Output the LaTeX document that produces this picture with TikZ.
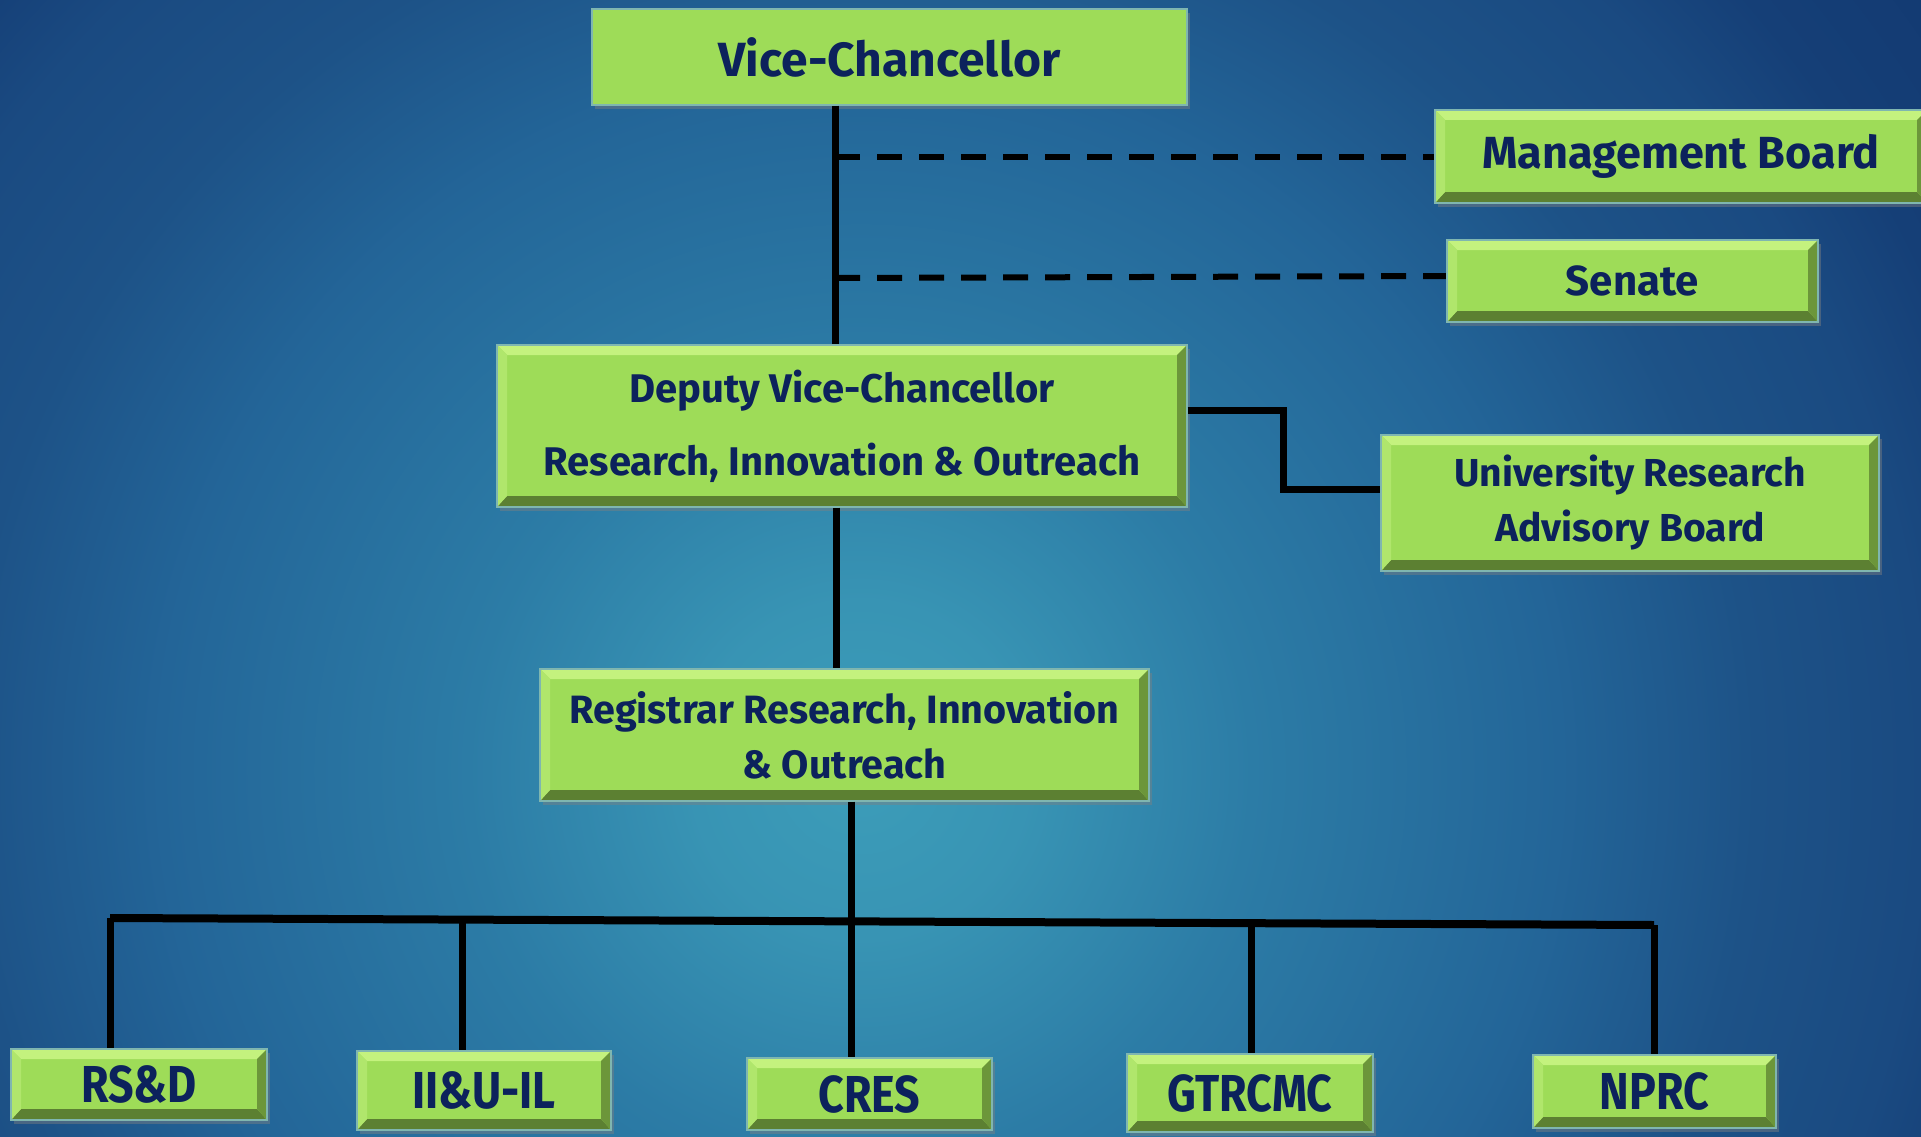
\documentclass[tikz,border=0pt]{standalone}
\usepackage{fontspec}
\setmainfont{Fira Sans}
\newfontfamily\condfont[FakeStretch=0.86]{Fira Sans}
\usetikzlibrary{calc,shadows}
\definecolor{bgA}{HTML}{3C9DB9}
\definecolor{bgB}{HTML}{3894B4}
\definecolor{bgC}{HTML}{2C7CA6}
\definecolor{bgD}{HTML}{236598}
\definecolor{bgE}{HTML}{1D5287}
\definecolor{bgF}{HTML}{1A4A81}
\definecolor{bgG}{HTML}{153F77}
\definecolor{bgH}{HTML}{123870}
\definecolor{grn}{HTML}{9EDC58}
\definecolor{bvT}{HTML}{C4F27E}
\definecolor{bvL}{HTML}{B0E66C}
\definecolor{bvR}{HTML}{6C963A}
\definecolor{bvB}{HTML}{5C8032}
\definecolor{edge}{HTML}{7FB6B0}
\definecolor{navy}{HTML}{0C225C}
\pgfdeclareradialshading{bgshade}{\pgfpoint{0bp}{0bp}}{color(0bp)=(bgA); color(3bp)=(bgB); color(7bp)=(bgC); color(12.5bp)=(bgD); color(16bp)=(bgE); color(19bp)=(bgF); color(21bp)=(bgG); color(25bp)=(bgH); color(50bp)=(bgH)}
\tikzset{
  bev/.style={path picture={
    \fill[bvT] (path picture bounding box.north west) -- (path picture bounding box.north east)
      -- ([shift={(-10pt,-10pt)}]path picture bounding box.north east)
      -- ([shift={(10pt,-10pt)}]path picture bounding box.north west) -- cycle;
    \fill[bvB] (path picture bounding box.south west) -- (path picture bounding box.south east)
      -- ([shift={(-10pt,11pt)}]path picture bounding box.south east)
      -- ([shift={(10pt,11pt)}]path picture bounding box.south west) -- cycle;
    \fill[bvL] (path picture bounding box.north west) -- (path picture bounding box.south west)
      -- ([shift={(10pt,11pt)}]path picture bounding box.south west)
      -- ([shift={(10pt,-10pt)}]path picture bounding box.north west) -- cycle;
    \fill[bvR] (path picture bounding box.north east) -- (path picture bounding box.south east)
      -- ([shift={(-10pt,11pt)}]path picture bounding box.south east)
      -- ([shift={(-10pt,-10pt)}]path picture bounding box.north east) -- cycle;
  }},
  box/.style={rectangle, fill=grn, draw=edge, line width=1.2pt, inner sep=0pt,
    text=navy, align=center, drop shadow={shadow xshift=3pt, shadow yshift=-4pt, opacity=0.45}},
  bbox/.style={box, bev},
  topfont/.style={font=\bfseries\fontsize{#1}{#1}\selectfont},
  lowfont/.style={font=\condfont\bfseries\fontsize{52}{52}\selectfont},
  conn/.style={draw=black, line width=7pt},
  dconn/.style={draw=black, line width=6pt, dash pattern=on 25pt off 17pt},
}
\begin{document}
\begin{tikzpicture}[x=1pt, y=-1pt]
\useasboundingbox (0,0) rectangle (1921,1137);
\begin{scope}
  \clip (0,0) rectangle (1921,1137);
  \shade[shading=bgshade] (-540,-630) rectangle (2260,2170);
\end{scope}

% coordinates for connector routes
\coordinate (t1) at (835,0);
\coordinate (dm) at (835,157);
\coordinate (ds) at (835,278);
\coordinate (k1) at (1283,410);
\coordinate (k2) at (1283,489);
\coordinate (t2) at (836,0);
\coordinate (busL) at (110,918);
\coordinate (busR) at (1654,925);
\coordinate (bus) at ($(busL)!0.48!(busR)$);
\coordinate (d2) at ($(busL)!0.228!(busR)$);
\coordinate (d4) at ($(busL)!0.739!(busR)$);

% connectors (behind boxes)
\draw[conn] (t1 |- 0,105) -- (t1 |- 0,345);
\draw[dconn] (dm) -- (1435,157);
\draw[dconn] (ds) -- (1447,276);

% boxes
\node[box, topfont=48, minimum width=595pt, minimum height=96pt] (vc) at (889.5,57) {Vice-Chancellor};
\node[bbox, topfont=45, minimum width=492pt, minimum height=93pt] (mb) at (1681,156.5) {Management Board};
\node[bbox, topfont=42, minimum width=371pt, minimum height=82pt] (sen) at (1632.5,281) {Senate};
\node[bbox, font=\bfseries\fontsize{40}{73}\selectfont, minimum width=690pt, minimum height=162pt] (dvc) at (842,426) {Deputy Vice-Chancellor\\Research, Innovation \& Outreach};
\node[bbox, font=\bfseries\fontsize{39}{55}\selectfont, minimum width=498pt, minimum height=136pt] (urab) at (1630,503) {University Research\\Advisory Board};
\node[bbox, font=\bfseries\fontsize{39.5}{55}\selectfont, minimum width=609pt, minimum height=132pt] (reg) at (844.5,735) {Registrar Research, Innovation\\\& Outreach};

\node[bbox, lowfont, minimum width=256pt, minimum height=71pt] (rsd) at (139,1084.5) {RS\&D};
\node[bbox, lowfont, minimum width=254pt, minimum height=79pt] (iiu) at (484,1090.5) {II\&U-IL};
\node[bbox, lowfont, minimum width=245pt, minimum height=72pt] (cres) at (869.5,1094) {CRES};
\node[bbox, lowfont, minimum width=246pt, minimum height=78pt] (gtr) at (1250,1093) {GTRCMC};
\node[bbox, lowfont, minimum width=243pt, minimum height=73pt] (nprc) at (1654.5,1091.5) {NPRC};

% connectors between boxes
\draw[conn] (vc.south -| t1) -- (dvc.north -| t1);
\draw[conn] (dvc.east |- k1) -- (k1) -- (k2) -- (urab.west |- k2);
\draw[conn] (dvc.south -| t2) -- (reg.north -| t2);
\draw[conn] (reg.south -| bus) -- (bus);
\draw[conn, line width=8pt] (busL) -- (busR);
\draw[conn] (busL) -- (rsd.north -| busL);
\draw[conn] (d2) -- (iiu.north -| d2);
\draw[conn] (bus) -- (cres.north -| bus);
\draw[conn] (d4) -- (gtr.north -| d4);
\draw[conn] (busR) -- (nprc.north -| busR);
\end{tikzpicture}
\end{document}
